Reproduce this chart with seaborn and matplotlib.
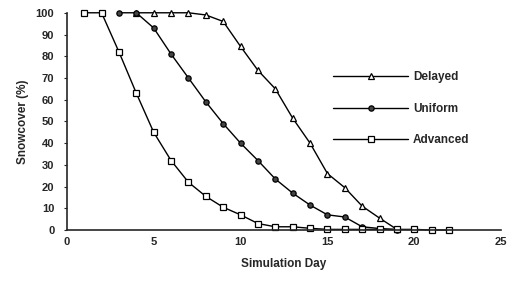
import matplotlib
matplotlib.use("Agg")
import matplotlib.pyplot as plt
import seaborn as sns

# values
delayed_days = list(range(4, 20))
delayed = [100, 100, 100, 100, 99, 96, 84.5, 73.5, 65, 51.5, 40, 26, 19.5, 11, 5.5, 0.3]

uniform_days = list(range(3, 20))
uniform = [100, 100, 93, 81, 70, 59, 49, 40, 32, 23.5, 17, 11.5, 7, 6, 1.5, 0.7, 0.2]

advanced_days = list(range(1, 23))
advanced = [100, 100, 82, 63, 45, 32, 22, 15.5, 10.5, 7, 3, 1.5, 1.5, 0.8,
            0.3, 0.3, 0.3, 0.3, 0.3, 0.3, 0, 0]

x_ticks = [0, 5, 10, 15, 20, 25]
y_ticks = list(range(0, 101, 10))

sns.set_style("white")
plt.rcParams["font.family"] = ["Liberation Sans", "DejaVu Sans"]
plt.rcParams["font.weight"] = "bold"

fig = plt.figure(figsize=(5.14, 2.84), dpi=100)
ax = fig.add_axes([0.130, 0.190, 0.845, 0.765])

common = dict(color="black", linewidth=1.0, markeredgecolor="black",
              markeredgewidth=0.9, clip_on=False, ax=ax)
sns.lineplot(x=delayed_days, y=delayed, marker="^", markerfacecolor="white",
             markersize=5, label="Delayed", **common)
sns.lineplot(x=uniform_days, y=uniform, marker="o", markerfacecolor="#444444",
             markersize=3.8, label="Uniform", **common)
sns.lineplot(x=advanced_days, y=advanced, marker="s", markerfacecolor="white",
             markersize=4.8, label="Advanced", **common)

ax.set_xlim(0, 25)
ax.set_ylim(0, 100)
ax.set_xticks(x_ticks)
ax.set_yticks(y_ticks)
ax.tick_params(axis="both", labelsize=8, length=2, width=0.8,
               left=True, bottom=False)
ax.tick_params(axis="y", pad=7)
ax.tick_params(axis="x", pad=3)
for lab in ax.get_xticklabels() + ax.get_yticklabels():
    lab.set_fontweight("bold")

ax.set_xlabel("Simulation Day", fontsize=8.5, fontweight="bold", labelpad=8)
ax.set_ylabel("Snowcover (%)", fontsize=8.5, fontweight="bold", labelpad=5)

sns.despine(ax=ax)
ax.spines["left"].set_linewidth(1.2)
ax.spines["bottom"].set_linewidth(1.2)

leg = ax.legend(loc="upper left", bbox_to_anchor=(0.588, 0.78), frameon=False,
                handlelength=6.4, labelspacing=1.65, handletextpad=0.4,
                prop={"size": 8.5, "weight": "bold"})

fig.savefig("out.png", dpi=100)
